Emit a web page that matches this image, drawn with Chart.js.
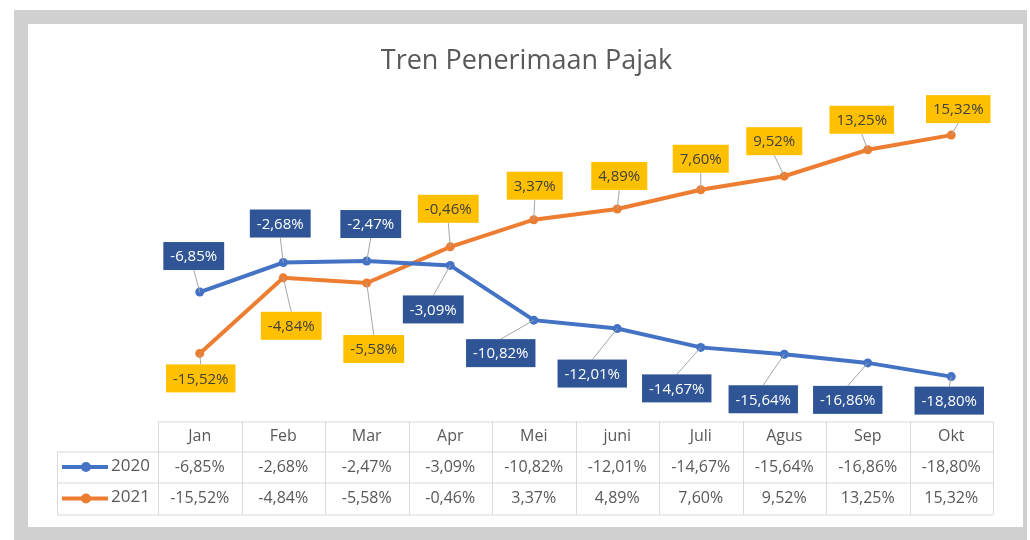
<!DOCTYPE html>
<html lang="id">
<head>
  <meta charset="UTF-8">
  <title>Tren Penerimaan Pajak</title>
  <script src="https://cdn.jsdelivr.net/npm/chart.js"></script>
  <style>
    html, body {
      margin: 0;
      padding: 0;
      background: #ffffff;
      width: 1030px;
      height: 540px;
      overflow: hidden;
    }

    .frame {
      position: absolute;
      left: 14px;
      top: 10px;
      width: 1013px;
      height: 530px;
      background: #d0d0d0;
    }

    .chart-box {
      position: absolute;
      left: 28px;
      top: 24px;
      width: 995px;
      height: 503px;
      background: #ffffff;
    }
  </style>
</head>
<body>

<div class="frame"></div>
<div class="chart-box">
  <canvas id="chart"></canvas>
</div>

<script>
  const months = ['Jan', 'Feb', 'Mar', 'Apr', 'Mei', 'juni', 'Juli', 'Agus', 'Sep', 'Okt'];
  const seriesNames = ['2020', '2021'];
  const values2020 = [-6.85, -2.68, -2.47, -3.09, -10.82, -12.01, -14.67, -15.64, -16.86, -18.80];
  const values2021 = [-15.52, -4.84, -5.58, -0.46, 3.37, 4.89, 7.60, 9.52, 13.25, 15.32];

  // where each data label sits relative to its point (px), like the dragged labels in the original
  const labelShift2020 = [[-6, -36], [-3, -39], [4, -37], [-17, 44], [-33, 33], [-25, 45], [-24, 41], [-21, 45], [-20, 37], [-2, 24]];
  const labelShift2021 = [[1, 25], [8, 48], [7, 66], [-2, -38], [1, -34], [2, -33], [0, -31], [-10, -35], [-6, -30], [7, -26]];

  const blue = '#4472c4';
  const orange = '#ed7d31';
  const textGrey = '#595959';
  const fontName = '"Open Sans", "Liberation Sans", sans-serif';

  function pct(v) {
    return v.toFixed(2).replace('.', ',') + '%';
  }

  // boxed data labels with leader lines
  const boxLabels = {
    id: 'boxLabels',
    afterDatasetsDraw(chart) {
      const ctx = chart.ctx;
      ctx.save();
      ctx.font = '15px ' + fontName;
      ctx.textAlign = 'center';
      ctx.textBaseline = 'middle';
      chart.data.datasets.forEach((ds, di) => {
        const meta = chart.getDatasetMeta(di);
        meta.data.forEach((pt, i) => {
          const shift = ds.labelShift[i];
          const text = pct(ds.data[i]);
          const w = ctx.measureText(text).width + 14;
          const h = 28;
          const cx = pt.x + shift[0];
          const cy = pt.y + shift[1];
          const edgeY = shift[1] < 0 ? cy + h / 2 : cy - h / 2;
          ctx.strokeStyle = '#a6a6a6';
          ctx.lineWidth = 1;
          ctx.beginPath();
          ctx.moveTo(pt.x, pt.y);
          ctx.lineTo(cx, edgeY);
          ctx.stroke();
          ctx.fillStyle = ds.labelFill;
          ctx.fillRect(cx - w / 2, cy - h / 2, w, h);
          ctx.fillStyle = ds.labelColor;
          ctx.fillText(text, cx, cy + 1);
        });
      });
      ctx.restore();
    }
  };

  // title + data table under the plot
  const dataTable = {
    id: 'dataTable',
    afterDraw(chart) {
      const ctx = chart.ctx;
      const area = chart.chartArea;
      const n = months.length;
      const step = (area.right - area.left) / n;
      const top = area.bottom + 1;
      const rowH = [30, 31, 32];
      const legendLeft = area.left - 101;
      const colors = [blue, orange];

      ctx.save();
      ctx.fillStyle = textGrey;
      ctx.font = '27px ' + fontName;
      ctx.textAlign = 'center';
      ctx.textBaseline = 'middle';
      ctx.fillText('Tren Penerimaan Pajak', chart.width / 2 + 1, 37);

      // grid
      ctx.strokeStyle = '#d9d9d9';
      ctx.lineWidth = 1;
      const y1 = top + rowH[0];
      const y2 = y1 + rowH[1];
      const y3 = y2 + rowH[2];
      ctx.beginPath();
      ctx.moveTo(area.left, top + 0.5); ctx.lineTo(area.right, top + 0.5);
      ctx.moveTo(legendLeft, y1 + 0.5); ctx.lineTo(area.right, y1 + 0.5);
      ctx.moveTo(legendLeft, y2 + 0.5); ctx.lineTo(area.right, y2 + 0.5);
      ctx.moveTo(legendLeft, y3 + 0.5); ctx.lineTo(area.right, y3 + 0.5);
      ctx.moveTo(legendLeft + 0.5, y1); ctx.lineTo(legendLeft + 0.5, y3);
      for (let i = 0; i <= n; i++) {
        const x = Math.round(area.left + i * step) + 0.5;
        ctx.moveTo(x, top); ctx.lineTo(x, y3);
      }
      ctx.stroke();

      ctx.font = '16px ' + fontName;
      ctx.fillStyle = textGrey;
      months.forEach((m, i) => {
        const cx = area.left + (i + 0.5) * step;
        ctx.fillText(m, cx, top + rowH[0] / 2);
        ctx.fillText(pct(values2020[i]), cx, y1 + rowH[1] / 2);
        ctx.fillText(pct(values2021[i]), cx, y2 + rowH[2] / 2);
      });

      // legend keys
      [y1 + rowH[1] / 2, y2 + rowH[2] / 2].forEach((cy, r) => {
        ctx.strokeStyle = colors[r];
        ctx.lineWidth = 4;
        ctx.beginPath();
        ctx.moveTo(legendLeft + 5, cy);
        ctx.lineTo(legendLeft + 51, cy);
        ctx.stroke();
        ctx.fillStyle = colors[r];
        ctx.beginPath();
        ctx.arc(legendLeft + 29, cy, 5, 0, Math.PI * 2);
        ctx.fill();
        ctx.fillStyle = textGrey;
        ctx.font = '17px ' + fontName;
        ctx.textAlign = 'left';
        ctx.fillText(seriesNames[r], legendLeft + 54, cy - 1);
      });
      ctx.restore();
    }
  };

  new Chart(document.getElementById('chart'), {
    type: 'line',
    data: {
      labels: months,
      datasets: [
        {
          label: seriesNames[0],
          data: values2020,
          borderColor: blue,
          backgroundColor: blue,
          borderWidth: 4,
          pointRadius: 4.5,
          pointBorderWidth: 0,
          tension: 0,
          labelShift: labelShift2020,
          labelFill: '#2f5597',
          labelColor: '#ffffff'
        },
        {
          label: seriesNames[1],
          data: values2021,
          borderColor: orange,
          backgroundColor: orange,
          borderWidth: 4,
          pointRadius: 4.5,
          pointBorderWidth: 0,
          tension: 0,
          labelShift: labelShift2021,
          labelFill: '#ffc000',
          labelColor: '#404040'
        }
      ]
    },
    options: {
      responsive: true,
      maintainAspectRatio: false,
      animation: false,
      layout: {
        padding: { left: 130, right: 30, top: 78, bottom: 106.5 }
      },
      plugins: {
        legend: { display: false },
        title: { display: false },
        tooltip: { enabled: false }
      },
      scales: {
        x: { display: false, offset: true },
        y: { display: false, min: -25, max: 20 }
      }
    },
    plugins: [boxLabels, dataTable]
  });
</script>

</body>
</html>
